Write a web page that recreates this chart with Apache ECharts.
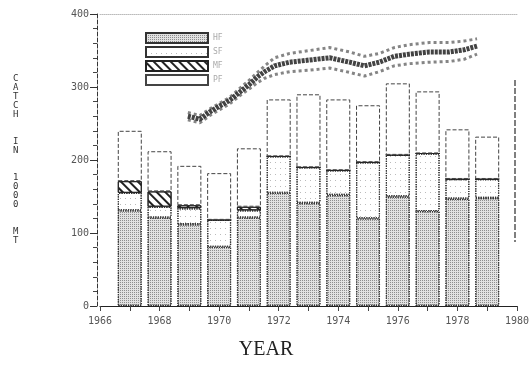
<!DOCTYPE html>
<html>
<head>
<meta charset="utf-8">
<script src="https://cdn.jsdelivr.net/npm/echarts@6/dist/echarts.min.js"></script>
<style>
  html, body { margin: 0; padding: 0; background: #fff; }
  #main { width: 532px; height: 380px; }
</style>
</head>
<body>
<div id="main"></div>
<script>
// catch per year, stacked from the bottom (1000 t)
var years = ['1966', '1967', '1968', '1969', '1970', '1971', '1972', '1973', '1974', '1975', '1976', '1977', '1978', '1979', '1980'];
var hf = ['-', 131, 121, 112, 81, 121, 155, 141, 152, 120, 150, 130, 147, 148, '-'];
var sf = ['-', 24, 15, 22, 37, 10, 50, 49, 34, 77, 57, 79, 27, 26, '-'];
var mf = ['-', 16, 21, 4, 0, 5, 0, 0, 0, 0, 0, 0, 0, 0, '-'];
var pf = ['-', 69, 55, 54, 64, 80, 78, 100, 97, 78, 98, 85, 68, 58, '-'];
var legendNames = ['HF', 'SF', 'MF', 'PF'];

// the speckled band across the top (centre / upper / lower edge)
var cloudYears = [1968.95, 1969.35, 1969.69, 1970.02, 1970.36, 1970.69, 1971.03, 1971.29, 1971.53, 1971.86, 1972.37, 1973.04, 1973.71, 1974.38, 1974.88, 1975.38, 1975.88, 1976.39, 1977.06, 1977.73, 1978.23, 1978.66];
var cloudMid = [260, 256, 266, 274, 282, 293, 304, 314, 321, 329, 334, 337, 340, 334, 329, 334, 342, 345, 348, 348, 351, 356];
var cloudTop = [265, 261, 270, 278, 286, 298, 310, 320, 329, 340, 346, 350, 354, 348, 342, 346, 354, 358, 361, 361, 363, 366];
var cloudLow = [255, 251, 261, 269, 277, 288, 298, 306, 312, 317, 321, 323, 326, 320, 315, 321, 329, 332, 334, 335, 338, 345];

var yTicks = [0, 100, 200, 300, 400];

function pairs(xs, ys) {
  var out = [];
  for (var i = 0; i < xs.length; i++) out.push([xs[i], ys[i]]);
  return out;
}

var chart = echarts.init(document.getElementById('main'), null, { renderer: 'canvas' });

var dotBorder = { borderColor: '#333', borderWidth: 1.2, borderType: 'dotted' };

var option = {
  animation: false,
  backgroundColor: '#fff',
  grid: { left: 100, right: 14, top: 14, bottom: 74 },
  legend: {
    orient: 'vertical',
    left: 140,
    top: 27,
    icon: 'rect',
    itemWidth: 62,
    itemHeight: 10,
    itemGap: 2,
    data: legendNames,
    textStyle: { color: '#aaa', fontSize: 8, fontFamily: 'DejaVu Sans Mono' }
  },
  xAxis: [
    {
      type: 'category',
      data: years,
      boundaryGap: false,
      axisLine: { lineStyle: { color: '#222', width: 1.2 } },
      axisTick: { show: true, length: 5, interval: 0, lineStyle: { color: '#444' } },
      splitLine: { show: false },
      axisLabel: { color: '#555', fontSize: 10, fontFamily: 'DejaVu Sans Mono', margin: 10, interval: 1 }
    },
    {
      type: 'value',
      position: 'top',
      min: 1966,
      max: 1980,
      axisLine: { show: true, lineStyle: { color: '#bbb', type: 'dotted' } },
      axisTick: { show: false },
      axisLabel: { show: false },
      splitLine: { show: false }
    }
  ],
  yAxis: {
    type: 'value',
    min: 0,
    max: 400,
    interval: 100,
    offset: 3,
    axisLine: { show: true, lineStyle: { color: '#333', type: 'dashed' } },
    axisTick: { show: true, length: 7, lineStyle: { color: '#333' } },
    minorTick: { show: true, splitNumber: 5, length: 4, lineStyle: { color: '#444' } },
    splitLine: { show: false },
    axisLabel: {
      color: '#555', fontSize: 10, fontFamily: 'DejaVu Sans Mono', margin: 8,
      formatter: function (v) { return yTicks.indexOf(v) >= 0 ? String(v) : ''; }
    }
  },
  graphic: [
    {
      type: 'text',
      left: 13,
      top: 74,
      style: {
        text: 'C\nA\nT\nC\nH\n\n\nI\nN\n\n\n1\n0\n0\n0\n\n\nM\nT',
        fill: '#333',
        font: '9px "DejaVu Sans Mono"',
        lineHeight: 9
      }
    },
    {
      type: 'text',
      left: 'center',
      top: 340,
      style: {
        text: 'YEAR',
        fill: '#222',
        font: '20px "Liberation Serif"'
      }
    },
    {
      type: 'line',
      shape: { x1: 515, y1: 80, x2: 515, y2: 242 },
      style: { stroke: '#555', lineWidth: 1.5, lineDash: [6, 2] }
    }
  ],
  series: [
    {
      name: 'HF',
      type: 'bar',
      stack: 'catch',
      barWidth: 24,
      data: hf,
      itemStyle: Object.assign({
        color: '#e2e2e2',
        decal: {
          symbol: 'rect', symbolSize: 1,
          dashArrayX: [1, 1], dashArrayY: [1, 1],
          color: 'rgba(40,40,40,0.45)'
        }
      }, dotBorder)
    },
    {
      name: 'SF',
      type: 'bar',
      stack: 'catch',
      barWidth: 24,
      data: sf,
      itemStyle: Object.assign({
        color: '#fff',
        decal: {
          symbol: 'rect', symbolSize: 1,
          dashArrayX: [1, 4], dashArrayY: [1, 5],
          color: 'rgba(60,60,60,0.35)'
        }
      }, dotBorder)
    },
    {
      name: 'MF',
      type: 'bar',
      stack: 'catch',
      barWidth: 24,
      data: mf,
      itemStyle: {
        color: '#fff',
        borderColor: '#222',
        borderWidth: 1,
        decal: {
          symbol: 'rect', symbolSize: 1, rotation: Math.PI / 4,
          dashArrayX: [1, 0], dashArrayY: [2, 4],
          color: '#222'
        }
      }
    },
    {
      name: 'PF',
      type: 'bar',
      stack: 'catch',
      barWidth: 24,
      data: pf,
      itemStyle: { color: '#fff', borderColor: '#444', borderWidth: 1, borderType: 'dashed' }
    },
    {
      type: 'line',
      xAxisIndex: 1,
      data: pairs(cloudYears, cloudMid),
      symbol: 'none',
      z: 5,
      lineStyle: { color: '#222', width: 5, type: [3, 1], opacity: 0.85 }
    },
    {
      type: 'line',
      xAxisIndex: 1,
      data: pairs(cloudYears, cloudTop),
      symbol: 'none',
      z: 5,
      lineStyle: { color: '#333', width: 3, type: 'dotted', opacity: 0.6 }
    },
    {
      type: 'line',
      xAxisIndex: 1,
      data: pairs(cloudYears, cloudLow),
      symbol: 'none',
      z: 5,
      lineStyle: { color: '#333', width: 3, type: 'dotted', opacity: 0.6 }
    }
  ]
};

chart.setOption(option);
</script>
</body>
</html>
